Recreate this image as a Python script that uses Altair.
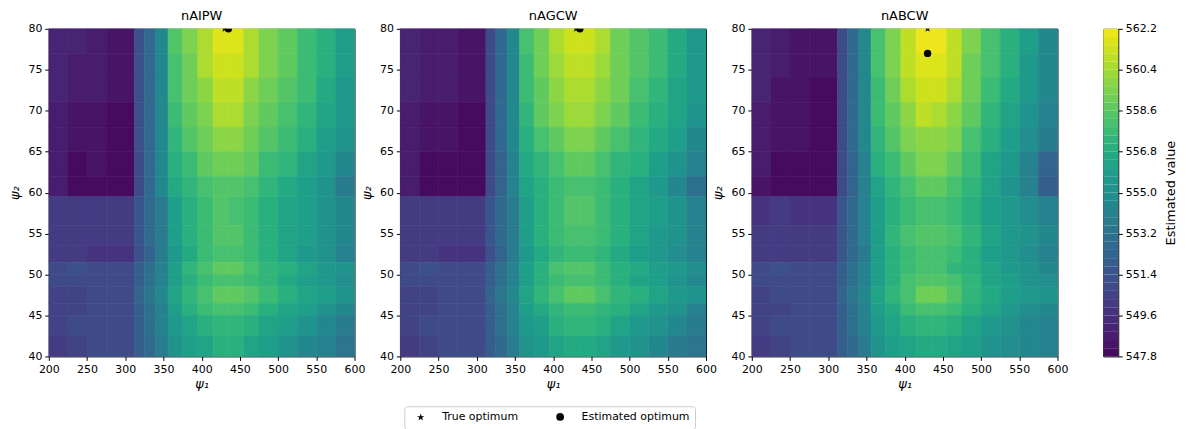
import altair as alt
import pandas as pd

PANELS = ["nAIPW", "nAGCW", "nABCW"]

# cell edges (psi_1 columns, psi_2 rows listed from top to bottom)
X_EDGES = [200, 225, 250, 275, 312, 325, 340, 356, 375, 395, 415, 435, 455, 475, 500, 525, 550, 575, 600]
Y_EDGES = [80, 77, 74, 71, 68, 65, 62, 59.5, 56, 53.5, 51.5, 50, 48.5, 46.5, 45, 42.5, 40]

NAIPW = [
    [549.0, 548.9, 548.8, 548.3, 551.2, 552.8, 554.6, 558.4, 559.4, 560.6, 561.8, 561.8, 560.6, 559.4, 558.6, 557.8, 557.0, 556.0],
    [549.0, 548.8, 548.8, 548.3, 551.2, 552.8, 554.6, 558.2, 559.2, 560.4, 561.4, 561.4, 560.4, 559.4, 558.6, 557.8, 556.8, 555.8],
    [548.9, 548.6, 548.7, 548.2, 551.2, 552.8, 554.6, 558.0, 559.0, 560.0, 560.8, 560.8, 560.0, 559.2, 558.4, 557.6, 556.6, 555.6],
    [548.8, 548.3, 548.5, 548.1, 551.1, 552.7, 554.5, 557.8, 558.8, 559.6, 560.4, 560.4, 559.6, 558.8, 558.0, 557.2, 556.4, 555.4],
    [548.7, 548.2, 548.3, 548.0, 551.1, 552.7, 554.5, 557.4, 558.4, 559.2, 559.8, 559.8, 559.2, 558.4, 557.6, 556.8, 556.0, 555.0],
    [548.6, 548.1, 548.2, 548.0, 551.0, 552.6, 554.4, 557.0, 557.8, 558.6, 559.2, 559.2, 558.6, 557.8, 557.2, 556.4, 555.6, 554.6],
    [548.6, 548.1, 548.1, 548.0, 551.0, 552.6, 554.4, 556.6, 557.2, 558.0, 558.4, 558.4, 558.0, 557.2, 556.6, 556.0, 555.0, 553.8],
    [550.2, 550.2, 550.0, 550.0, 551.4, 552.6, 553.8, 555.8, 556.8, 557.8, 558.4, 558.2, 557.8, 557.0, 556.4, 555.8, 555.2, 554.4],
    [550.2, 550.2, 550.0, 550.0, 551.4, 552.6, 553.8, 555.8, 556.8, 557.8, 558.4, 558.4, 557.8, 557.0, 556.4, 555.8, 555.2, 554.4],
    [550.0, 550.0, 549.9, 549.8, 551.2, 552.4, 553.6, 555.6, 556.6, 557.6, 558.0, 558.0, 557.6, 556.8, 556.2, 555.6, 555.0, 554.2],
    [551.0, 551.2, 550.8, 550.8, 552.0, 553.0, 554.2, 556.0, 557.2, 558.2, 558.6, 558.6, 558.0, 557.4, 556.8, 556.2, 555.6, 555.0],
    [550.8, 550.8, 550.8, 550.8, 552.0, 553.0, 554.2, 556.0, 557.0, 557.8, 558.2, 558.2, 557.8, 557.2, 556.6, 556.0, 555.4, 554.8],
    [550.6, 550.6, 551.0, 550.8, 552.2, 553.2, 554.4, 556.2, 557.4, 558.2, 558.8, 558.8, 558.4, 557.8, 557.0, 556.4, 555.8, 555.2],
    [550.6, 550.6, 550.8, 550.8, 552.0, 553.0, 554.2, 555.8, 556.8, 557.6, 558.0, 558.0, 557.6, 557.0, 556.4, 555.8, 555.2, 554.4],
    [550.6, 550.8, 550.8, 550.8, 552.0, 553.0, 554.0, 555.4, 556.2, 557.0, 557.4, 557.4, 557.0, 556.4, 555.8, 555.2, 554.4, 553.8],
    [550.2, 550.6, 550.8, 550.8, 551.8, 552.8, 553.8, 555.0, 555.8, 556.4, 556.8, 556.8, 556.4, 555.8, 555.2, 554.6, 554.0, 553.4],
]

NAGCW = [
    [549.0, 548.8, 548.6, 548.2, 551.0, 552.6, 554.4, 558.0, 559.2, 560.4, 561.4, 561.2, 560.4, 559.2, 558.4, 557.6, 556.6, 555.6],
    [549.0, 548.8, 548.6, 548.2, 551.0, 552.6, 554.4, 557.8, 559.0, 560.2, 561.0, 561.0, 560.2, 559.2, 558.4, 557.6, 556.6, 555.6],
    [548.9, 548.6, 548.6, 548.2, 551.0, 552.6, 554.4, 557.6, 558.8, 559.8, 560.6, 560.6, 559.8, 559.0, 558.2, 557.4, 556.4, 555.4],
    [548.8, 548.3, 548.4, 548.1, 551.0, 552.6, 554.4, 557.4, 558.6, 559.4, 560.2, 560.2, 559.4, 558.6, 557.8, 557.0, 556.2, 555.0],
    [548.7, 548.2, 548.2, 548.0, 551.0, 552.6, 554.4, 557.0, 558.0, 558.8, 559.4, 559.4, 558.8, 558.0, 557.2, 556.6, 555.8, 554.6],
    [548.6, 548.1, 548.1, 548.0, 550.8, 552.4, 554.2, 556.6, 557.4, 558.2, 558.8, 558.8, 558.2, 557.4, 556.8, 556.0, 555.2, 554.0],
    [548.6, 548.1, 548.1, 548.0, 550.8, 552.4, 554.2, 556.2, 556.8, 557.6, 558.0, 558.0, 557.6, 556.8, 556.2, 555.4, 554.4, 553.0],
    [550.2, 550.2, 550.0, 550.0, 551.4, 552.6, 553.8, 555.8, 556.8, 557.8, 558.4, 558.4, 557.8, 557.0, 556.4, 555.8, 555.0, 554.2],
    [550.2, 550.2, 550.0, 550.0, 551.4, 552.6, 553.8, 555.8, 556.8, 557.6, 558.2, 558.2, 557.6, 556.8, 556.2, 555.6, 555.0, 554.2],
    [550.0, 550.0, 549.9, 549.8, 551.2, 552.4, 553.6, 555.6, 556.6, 557.4, 557.8, 557.8, 557.4, 556.6, 556.0, 555.4, 554.8, 554.0],
    [551.0, 551.2, 550.8, 550.8, 552.0, 553.0, 554.2, 556.0, 557.0, 558.0, 558.4, 558.4, 557.8, 557.0, 556.6, 556.0, 555.4, 554.8],
    [550.8, 550.8, 550.8, 550.8, 552.0, 553.0, 554.2, 555.8, 556.8, 557.6, 558.0, 558.0, 557.6, 557.0, 556.4, 555.8, 555.2, 554.6],
    [550.6, 550.6, 551.0, 550.8, 552.2, 553.2, 554.4, 556.2, 557.2, 558.0, 558.6, 558.6, 558.2, 557.4, 556.8, 556.2, 555.6, 555.0],
    [550.6, 550.6, 550.8, 550.8, 552.0, 553.0, 554.2, 555.8, 556.6, 557.4, 557.8, 557.8, 557.4, 556.8, 556.2, 555.6, 555.0, 554.2],
    [550.6, 550.8, 550.8, 550.8, 552.0, 553.0, 554.0, 555.4, 556.0, 556.8, 557.2, 557.2, 556.8, 556.2, 555.6, 555.0, 554.4, 553.8],
    [550.2, 550.6, 550.8, 550.8, 551.8, 552.8, 553.8, 555.0, 555.6, 556.2, 556.6, 556.6, 556.2, 555.6, 555.0, 554.4, 553.8, 553.2],
]

NABCW = [
    [549.0, 548.6, 548.4, 548.2, 551.0, 552.6, 554.6, 558.2, 559.6, 561.0, 562.0, 562.0, 561.0, 559.4, 558.2, 557.0, 555.8, 554.6],
    [549.0, 548.6, 548.4, 548.2, 551.0, 552.6, 554.6, 558.0, 559.4, 560.8, 561.8, 561.8, 560.8, 559.2, 558.0, 556.8, 555.6, 554.6],
    [548.9, 548.4, 548.3, 548.1, 551.0, 552.6, 554.6, 557.8, 559.2, 560.6, 561.2, 561.2, 560.4, 559.0, 557.8, 556.6, 555.4, 554.4],
    [548.8, 548.2, 548.2, 548.1, 551.0, 552.6, 554.6, 557.6, 558.8, 560.0, 560.8, 560.6, 559.8, 558.6, 557.4, 556.4, 555.2, 554.2],
    [548.6, 548.2, 548.2, 548.0, 551.0, 552.6, 554.4, 557.2, 558.4, 559.4, 560.0, 560.0, 559.4, 558.2, 557.0, 556.0, 554.8, 553.8],
    [548.6, 548.1, 548.1, 548.0, 550.8, 552.4, 554.2, 556.8, 557.8, 558.8, 559.4, 559.4, 558.8, 557.6, 556.4, 555.4, 554.2, 552.4],
    [548.4, 548.1, 548.0, 548.0, 550.8, 552.4, 554.2, 556.4, 557.4, 558.2, 558.6, 558.6, 558.2, 557.2, 556.2, 555.2, 554.0, 552.0],
    [549.8, 550.0, 549.8, 549.8, 551.4, 552.8, 554.0, 556.0, 557.0, 557.6, 558.0, 558.0, 557.6, 556.8, 556.0, 555.4, 554.8, 554.0],
    [550.2, 550.2, 550.0, 550.0, 551.4, 552.8, 554.0, 556.0, 557.2, 558.0, 558.4, 558.4, 558.0, 557.2, 556.4, 555.6, 555.0, 554.4],
    [550.2, 550.2, 550.0, 550.0, 551.4, 552.6, 553.8, 555.8, 556.8, 557.6, 558.0, 558.0, 557.6, 556.8, 556.0, 555.4, 554.8, 554.2],
    [551.0, 551.2, 550.8, 550.8, 552.0, 553.0, 554.2, 555.8, 556.8, 557.6, 558.0, 558.0, 557.4, 556.8, 556.2, 555.6, 555.0, 554.6],
    [550.8, 550.8, 550.8, 550.8, 552.0, 553.0, 554.2, 556.0, 557.0, 558.0, 558.4, 558.4, 558.0, 557.2, 556.4, 555.8, 555.2, 554.8],
    [550.6, 550.8, 550.8, 550.8, 552.2, 553.2, 554.4, 556.2, 557.2, 558.2, 559.0, 559.0, 558.4, 557.4, 556.6, 556.0, 555.4, 555.0],
    [550.6, 550.6, 550.8, 550.8, 552.0, 553.0, 554.2, 555.8, 556.6, 557.6, 558.0, 558.0, 557.6, 556.8, 556.2, 555.4, 554.8, 554.4],
    [550.6, 550.8, 550.8, 550.8, 552.0, 553.0, 554.0, 555.4, 556.2, 557.0, 557.2, 557.2, 557.0, 556.2, 555.6, 555.0, 554.6, 554.2],
    [550.2, 550.6, 550.8, 550.8, 551.8, 552.8, 553.8, 555.0, 555.8, 556.4, 556.6, 556.6, 556.4, 555.8, 555.2, 554.8, 554.4, 554.2],
]

VALUES = {"nAIPW": NAIPW, "nAGCW": NAGCW, "nABCW": NABCW}

TRUE_OPT_X = [430, 430, 430]
TRUE_OPT_Y = [80, 80, 80]
EST_OPT_X = [435, 435, 430]
EST_OPT_Y = [80, 80, 77]

LEVEL_MIN, LEVEL_MAX, N_LEVELS = 547.8, 562.2, 40
CB_TICKS = [547.8, 549.6, 551.4, 553.2, 555.0, 556.8, 558.6, 560.4, 562.2]
X_TICKS = [200, 250, 300, 350, 400, 450, 500, 550, 600]
Y_TICKS = [40, 45, 50, 55, 60, 65, 70, 75, 80]

STAR = ("M0,-1L0.225,-0.309L0.951,-0.309L0.363,0.118L0.588,0.809L0,0.382"
        "L-0.588,0.809L-0.363,0.118L-0.951,-0.309L-0.225,-0.309Z")

# ---- tables
cells = []
for name in PANELS:
    mat = VALUES[name]
    for i, row in enumerate(mat):
        for j, v in enumerate(row):
            cells.append({"panel": name, "x0": X_EDGES[j], "x1": X_EDGES[j + 1],
                          "y0": Y_EDGES[i + 1], "y1": Y_EDGES[i], "value": v})
cells = pd.DataFrame(cells)

opts = []
for k, name in enumerate(PANELS):
    opts.append({"panel": name, "kind": "True optimum", "x": TRUE_OPT_X[k], "y": TRUE_OPT_Y[k]})
    opts.append({"panel": name, "kind": "Estimated optimum", "x": EST_OPT_X[k], "y": EST_OPT_Y[k]})
opts = pd.DataFrame(opts)

step = (LEVEL_MAX - LEVEL_MIN) / N_LEVELS
cb = pd.DataFrame({"lo": [LEVEL_MIN + i * step for i in range(N_LEVELS)],
                   "hi": [LEVEL_MIN + (i + 1) * step for i in range(N_LEVELS)]})
cb["mid"] = (cb["lo"] + cb["hi"]) / 2

W, H = 307, 329
FONT = "DejaVu Sans"

color_scale = alt.Scale(type="quantize", domain=[LEVEL_MIN, LEVEL_MAX], nice=False,
                        scheme=alt.SchemeParams(name="viridis", count=N_LEVELS))
xs = alt.Scale(domain=[200, 600], nice=False, zero=False)
ys = alt.Scale(domain=[40, 80], nice=False, zero=False)
x_axis = alt.Axis(values=X_TICKS, title="ψ₁", grid=False, labelOverlap=False, labelFlush=False,
                  titleFontStyle="italic", titlePadding=3)
y_axis = alt.Axis(values=Y_TICKS, title="ψ₂", grid=False, labelOverlap=False, labelFlush=False,
                  titleFontStyle="italic", titlePadding=6)

shape_legend = alt.Legend(orient="none", legendX=357, legendY=379, direction="horizontal",
                          title=None, strokeColor="#cccccc", cornerRadius=3, padding=5,
                          fillColor="white", labelFontSize=11, labelFont=FONT, labelColor="black",
                          symbolSize=60, symbolFillColor="black", symbolStrokeColor="black",
                          labelOffset=16, columnPadding=30, symbolOffset=6)


def panel(name):
    heat = alt.Chart(cells[cells.panel == name]).mark_rect(strokeWidth=0.6).encode(
        x=alt.X("x0:Q", scale=xs, axis=x_axis),
        x2="x1:Q",
        y=alt.Y("y0:Q", scale=ys, axis=y_axis),
        y2="y1:Q",
        color=alt.Color("value:Q", scale=color_scale, legend=None),
        stroke=alt.Stroke("value:Q", scale=color_scale, legend=None),
    )
    pts = alt.Chart(opts[opts.panel == name]).mark_point(filled=True, color="black", opacity=1,
                                                         size=55, clip=True).encode(
        x=alt.X("x:Q", scale=xs, axis=x_axis),
        y=alt.Y("y:Q", scale=ys, axis=y_axis),
        shape=alt.Shape("kind:N", scale=alt.Scale(domain=["True optimum", "Estimated optimum"],
                                                  range=[STAR, "circle"]),
                        legend=shape_legend),
    )
    return alt.layer(heat, pts).properties(
        width=W, height=H, title=alt.TitleParams(name, frame="group", offset=0, lineHeight=13))


colorbar = alt.Chart(cb).mark_rect().encode(
    y=alt.Y("lo:Q", scale=alt.Scale(domain=[LEVEL_MIN, LEVEL_MAX], nice=False, zero=False),
            axis=alt.Axis(orient="right", values=CB_TICKS, format=".1f", title="Estimated value",
                          labelOverlap=False, labelFlush=False,
                          titleAngle=270, titleBaseline="top", grid=False, titlePadding=8)),
    y2="hi:Q",
    color=alt.Color("mid:Q", scale=color_scale, legend=None),
).properties(width=15, height=H)

chart = alt.hconcat(panel("nAIPW"), panel("nAGCW"), panel("nABCW"), colorbar,
                    spacing=46, bounds="flush").resolve_scale(
    x="independent", y="independent", color="shared", shape="shared"
).properties(padding=0).configure_view(stroke="black", strokeWidth=1).configure_axis(
    labelFont=FONT, titleFont=FONT, labelFontSize=11, titleFontSize=13,
    labelColor="black", titleColor="black", domainColor="black", tickColor="black",
    tickSize=4, labelPadding=3, titleFontWeight="normal", domain=False, labelOverlap=False
).configure_title(font=FONT, fontSize=13, fontWeight="normal", color="black")

chart.save("out.html", embed_options={"renderer": "svg", "actions": False})
